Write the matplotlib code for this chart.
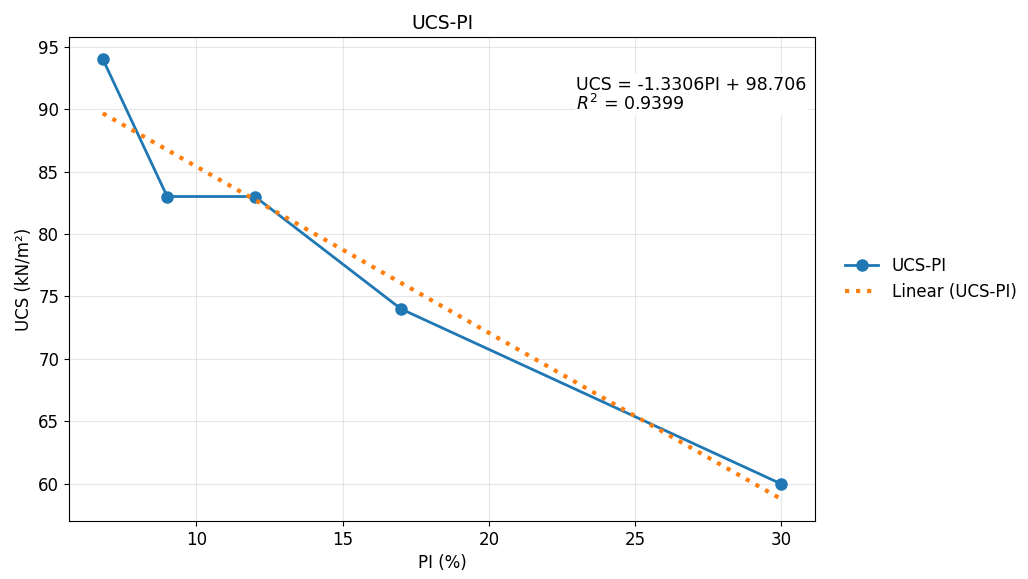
import matplotlib
matplotlib.use("Agg")
import matplotlib.pyplot as plt
import numpy as np

pi_vals = [6.8, 9, 12, 17, 30]
ucs_vals = [94, 83, 83, 74, 60]

x = np.array(pi_vals)
y = np.array(ucs_vals)
slope, intercept = np.polyfit(x, y, 1)
y_fit = slope * x + intercept
r2 = 1 - np.sum((y - y_fit) ** 2) / np.sum((y - y.mean()) ** 2)

fig, ax = plt.subplots(figsize=(10.28, 5.79), dpi=100)
ax.plot(x, y, marker='o', color='#1f77b4', linewidth=2, markersize=8, label='UCS-PI')
xs = np.linspace(x.min(), x.max(), 100)
ax.plot(xs, slope * xs + intercept, linestyle=':', color='#ff7f0e', linewidth=3, label='Linear (UCS-PI)')

ax.text(0.68, 0.92, 'UCS = {:.4f}PI + {:.3f}\n$R^2$ = {:.4f}'.format(slope, intercept, r2),
        transform=ax.transAxes, fontsize=12.5, va='top', ha='left', linespacing=1.0,
        bbox=dict(facecolor='white', edgecolor='none', pad=1))

ax.set_title('UCS-PI', fontsize=13.5)
ax.set_xlabel('PI (%)', fontsize=12)
ax.set_ylabel('UCS (kN/m²)', fontsize=12)
ax.tick_params(labelsize=12)
ax.grid(True, alpha=0.3)
ax.legend(loc='center left', bbox_to_anchor=(1.02, 0.5), frameon=False, fontsize=12)

plt.subplots_adjust(left=0.067, right=0.793, top=0.936, bottom=0.1)
plt.savefig('out.png', dpi=100)
